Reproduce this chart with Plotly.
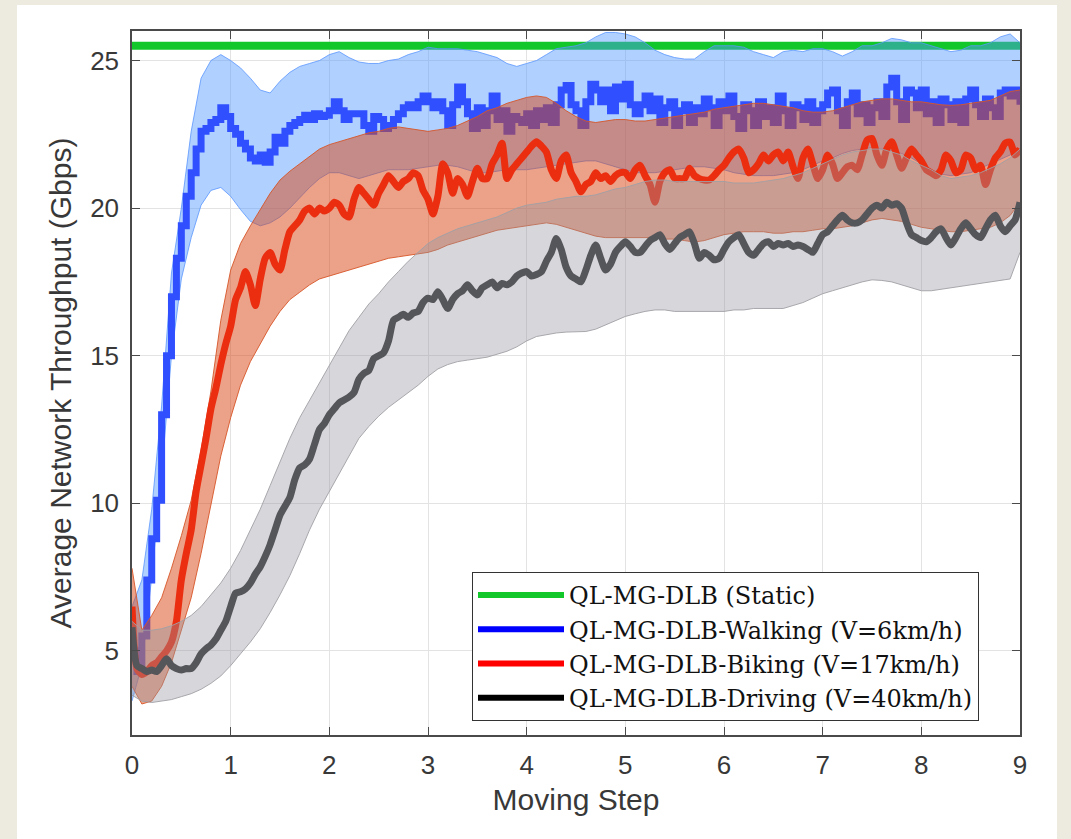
import numpy as np
import plotly.graph_objects as go

# ---------------- data ----------------
x_mean = np.round(np.arange(0, 9.0001, 0.05), 2)
x_band = np.round(np.arange(0, 9.0001, 0.1), 1)

static_value = 25.5

walk_mean = [5.0, 4.3, 5.5, 7.4, 8.8, 10.1, 13.0, 15.0, 17.0, 18.3,
             19.4, 20.4, 21.2, 22.0, 22.6, 22.7, 22.9, 23.0, 23.4, 23.1,
             22.7, 22.5, 22.2, 22.0, 21.7, 21.6, 21.8, 21.55, 21.9, 22.4,
             22.2, 22.6, 22.8, 22.9, 23.0, 23.15, 23.0, 23.2, 23.1, 23.15,
             23.3, 23.6, 23.3, 23.0, 23.2, 23.2, 23.2, 22.8, 22.6, 23.1,
             23.0, 22.7, 22.8, 23.0, 23.2, 23.4, 23.5, 23.4, 23.6, 23.8,
             23.6, 23.4, 23.6, 23.3, 22.8, 23.5, 24.1, 23.6, 23.2, 22.7,
             23.4, 22.8, 23.3, 23.8, 23.0, 23.3, 22.6, 23.1, 23.0, 22.9,
             23.2, 22.8, 23.3, 23.0, 23.4, 22.9, 23.5, 24.0, 24.15, 23.5,
             23.3, 22.8, 23.6, 24.2, 24.0, 23.6, 24.0, 23.3, 24.1, 23.7,
             24.2, 23.5, 23.2, 23.5, 23.8, 23.3, 23.7, 22.9, 23.4, 23.6,
             22.8, 23.3, 23.5, 22.9, 23.4, 23.2, 23.7, 23.4, 22.8, 23.6,
             23.3, 23.8, 23.1, 22.7, 23.5, 23.3, 22.8, 23.6, 23.1, 23.4,
             22.9, 23.8, 23.3, 22.8, 23.5, 23.4, 23.0, 23.6, 22.9, 23.3,
             23.5, 23.9, 24.0, 23.3, 22.8, 23.6, 23.9, 23.2, 23.5, 22.9,
             23.4, 23.6, 23.1, 24.1, 24.4, 23.6, 23.0, 24.0, 23.9, 23.4,
             24.0, 23.2, 23.6, 22.9, 23.7, 23.5, 23.0, 23.6, 22.9, 23.7,
             24.0, 23.5, 23.1, 23.7, 23.4, 23.1, 23.9, 24.0, 23.8, 24.0,
             23.5]

bike_mean = [6.5, 4.4, 4.2, 4.3, 4.5, 4.6, 4.8, 5.0, 5.3, 6.0,
             7.4, 8.3, 9.1, 10.4, 11.3, 12.2, 13.2, 13.9, 14.7, 15.4,
             16.0, 16.9, 17.3, 17.85, 17.4, 16.7, 17.6, 18.3, 18.5, 18.1,
             17.9, 18.6, 19.2, 19.4, 19.6, 19.9, 20.0, 19.8, 20.0, 19.9,
             20.0, 20.2, 20.1, 19.8, 19.7, 20.3, 20.7, 20.5, 20.3, 20.1,
             20.5, 20.8, 21.1, 20.9, 20.7, 20.9, 21.0, 21.2, 21.1, 20.6,
             20.3, 19.8, 20.4, 21.5, 21.2, 20.5, 21.0, 20.8, 20.4, 20.9,
             21.35, 21.0, 21.0, 21.5, 21.8, 22.2, 21.0, 21.3, 21.5, 21.7,
             21.9, 22.1, 22.25, 22.1, 21.9, 21.3, 21.0, 21.6, 21.8, 21.2,
             20.9, 20.55, 20.8, 20.9, 21.2, 21.0, 21.1, 20.9, 21.1, 21.2,
             21.2, 21.0, 21.3, 21.45, 21.1, 20.8, 20.2, 20.9, 21.2, 21.3,
             21.0, 21.0, 21.0, 21.35, 21.1, 21.0, 20.95, 20.95, 21.1, 21.3,
             21.45, 21.7, 21.9, 22.0, 21.7, 21.2, 21.3, 21.5, 21.8, 21.6,
             21.8, 21.9, 21.6, 21.9, 21.4, 21.0, 21.7, 22.0, 21.5, 21.0,
             21.3, 21.8, 21.5, 21.0, 21.2, 21.4, 21.45, 21.3, 21.8, 22.3,
             22.36, 21.8, 21.45, 22.0, 22.25, 21.8, 21.35, 21.7, 22.0, 21.8,
             21.6, 21.3, 21.2, 21.1, 21.3, 21.8, 21.6, 21.2, 21.3, 21.8,
             21.7, 21.3, 21.45, 20.8, 21.3, 21.7, 21.9, 22.2, 22.24, 21.8,
             22.0]

drive_mean = [5.8, 4.5, 4.4, 4.3, 4.35, 4.3, 4.5, 4.73, 4.5, 4.4,
              4.35, 4.4, 4.4, 4.6, 4.9, 5.07, 5.2, 5.4, 5.7, 6.0,
              6.5, 6.96, 7.0, 7.1, 7.3, 7.6, 7.85, 8.2, 8.6, 9.1,
              9.6, 9.9, 10.2, 10.8, 11.2, 11.3, 11.5, 12.0, 12.5, 12.7,
              13.0, 13.2, 13.4, 13.5, 13.6, 13.75, 14.2, 14.4, 14.5, 14.9,
              15.0, 15.1, 15.5, 16.2, 16.3, 16.4, 16.3, 16.45, 16.5, 16.8,
              16.95, 16.9, 17.17, 16.9, 16.6, 16.9, 17.1, 17.2, 17.4, 17.2,
              17.06, 17.3, 17.4, 17.5, 17.3, 17.45, 17.4, 17.5, 17.7, 17.8,
              17.85, 17.7, 17.75, 17.85, 18.2, 18.5, 18.97, 18.6, 18.0, 17.7,
              17.6, 17.5, 17.9, 18.4, 18.75, 18.3, 17.9, 18.1, 18.5, 18.7,
              18.86, 18.7, 18.5, 18.5, 18.7, 18.9, 19.0, 19.1, 18.8, 18.6,
              18.8, 19.0, 19.1, 19.2, 18.8, 18.3, 18.5, 18.4, 18.25, 18.3,
              18.6, 18.86, 19.0, 19.1, 18.8, 18.5, 18.4, 18.6, 18.8, 18.86,
              18.7, 18.8, 18.75, 18.8, 18.7, 18.75, 18.7, 18.6, 18.5, 18.8,
              19.1, 19.2, 19.4, 19.6, 19.76, 19.6, 19.5, 19.5, 19.6, 19.8,
              20.0, 20.1, 20.0, 20.2, 20.1, 20.15, 20.0, 19.5, 19.1, 19.0,
              18.9, 18.86, 19.0, 19.2, 19.3, 19.0, 18.75, 19.0, 19.3, 19.5,
              19.3, 19.1, 19.0, 19.3, 19.6, 19.76, 19.4, 19.2, 19.4, 19.6,
              20.2]

walk_upper = [6.5, 7.4, 9.8, 13.3, 17.8, 20.0, 22.6, 24.4, 25.0, 25.2,
              25.0, 24.75, 24.4, 24.0, 23.9, 24.3, 24.6, 24.8, 24.9, 25.0,
              25.2, 25.3, 25.1, 24.95, 24.9, 24.9, 25.0, 25.05, 25.2, 25.3,
              25.45, 25.4, 25.4, 25.4, 25.35, 25.3, 25.2, 25.1, 24.9, 24.8,
              24.9, 25.0, 25.2, 25.4, 25.45, 25.5, 25.6, 25.8, 25.95, 25.95,
              25.9, 25.8, 25.6, 25.35, 25.2, 25.1, 25.05, 25.05, 25.3, 25.5,
              25.5, 25.5, 25.45, 25.3, 25.2, 25.1, 25.3, 25.35, 25.3, 25.4,
              25.4, 25.3, 25.15, 25.3, 25.5, 25.5, 25.6, 25.75, 25.7, 25.6,
              25.6, 25.5, 25.4, 25.3, 25.35, 25.5, 25.5, 25.6, 25.8, 25.9,
              25.6]

walk_lower = [3.3, 4.5, 7.5, 11.0, 15.0, 17.6, 19.0, 20.1, 20.6, 20.7,
              20.4, 19.95, 19.55, 19.4, 19.5, 19.7, 20.0, 20.35, 20.7, 21.0,
              21.2, 21.2, 21.1, 21.0, 21.1, 21.2, 21.3, 21.3, 21.3, 21.35,
              21.4, 21.45, 21.45, 21.4, 21.3, 21.2, 21.2, 21.25, 21.3, 21.3,
              21.3, 21.35, 21.4, 21.45, 21.5, 21.55, 21.6, 21.6, 21.5, 21.4,
              21.3, 21.2, 21.2, 21.2, 21.25, 21.3, 21.35, 21.4, 21.4, 21.35,
              21.3, 21.2, 21.15, 21.1, 21.1, 21.1, 21.15, 21.2, 21.3, 21.45,
              21.6, 21.7, 21.85, 21.95, 22.0, 22.05, 22.0, 21.95, 21.85, 21.7,
              21.5, 21.3, 21.15, 21.1, 21.15, 21.2, 21.35, 21.5, 21.65, 21.8,
              22.0]

bike_upper = [7.8, 5.7, 6.2, 6.8, 7.8, 8.9, 10.1, 11.8, 13.8, 16.2,
              17.9, 18.8, 19.4, 19.95, 20.5, 20.95, 21.25, 21.5, 21.75, 22.0,
              22.15, 22.25, 22.35, 22.45, 22.55, 22.6, 22.7, 22.75, 22.7, 22.65,
              22.6, 22.65, 22.7, 22.8, 22.95, 23.1, 23.3, 23.4, 23.55, 23.65,
              23.75, 23.8, 23.75, 23.55, 23.3, 23.1, 22.95, 22.9, 22.95, 23.0,
              23.0, 22.95, 22.95, 23.0, 23.05, 23.1, 23.15, 23.2, 23.25, 23.35,
              23.4, 23.45, 23.5, 23.55, 23.55, 23.5, 23.45, 23.4, 23.3, 23.25,
              23.25, 23.3, 23.4, 23.5, 23.6, 23.65, 23.7, 23.7, 23.65, 23.6,
              23.6, 23.55, 23.5, 23.48, 23.5, 23.55, 23.6, 23.65, 23.8, 23.95,
              24.0]

bike_lower = [3.8, 3.2, 3.3, 3.8, 4.6, 5.7, 6.8, 8.3, 10.0, 11.6,
              12.9, 14.0, 14.8, 15.4, 16.0, 16.5, 16.9, 17.15, 17.4, 17.6,
              17.7, 17.8, 17.9, 18.0, 18.1, 18.2, 18.3, 18.35, 18.4, 18.45,
              18.5, 18.6, 18.75, 18.85, 18.95, 19.05, 19.15, 19.25, 19.3, 19.35,
              19.4, 19.45, 19.5, 19.45, 19.35, 19.25, 19.15, 19.05, 19.0, 19.0,
              19.0, 19.0, 19.0, 19.0, 18.95, 18.95, 18.9, 18.85, 18.9, 19.0,
              19.1, 19.15, 19.2, 19.2, 19.2, 19.15, 19.15, 19.2, 19.2, 19.25,
              19.3, 19.3, 19.35, 19.4, 19.5, 19.6, 19.65, 19.6, 19.55, 19.45,
              19.35, 19.3, 19.25, 19.2, 19.2, 19.25, 19.3, 19.35, 19.5, 19.75,
              20.2]

drive_upper = [6.0, 5.7, 5.7, 5.75, 5.85, 6.0, 6.2, 6.5, 6.9, 7.3,
               7.8, 8.4, 9.1, 9.8, 10.6, 11.4, 12.2, 12.9, 13.5, 14.1,
               14.7, 15.3, 15.85, 16.3, 16.75, 17.1, 17.5, 17.85, 18.2, 18.5,
               18.8, 19.0, 19.15, 19.3, 19.4, 19.5, 19.6, 19.7, 19.85, 20.0,
               20.1, 20.15, 20.2, 20.3, 20.35, 20.4, 20.4, 20.45, 20.55, 20.65,
               20.7, 20.8, 20.9, 20.95, 20.95, 20.9, 20.9, 20.9, 20.9, 20.9,
               20.9, 20.85, 20.85, 20.85, 20.9, 20.95, 21.0, 21.1, 21.2, 21.35,
               21.5, 21.65, 21.8, 21.9, 21.95, 22.0, 22.0, 21.9, 21.8, 21.6,
               21.45, 21.3, 21.1, 21.0, 21.05, 21.1, 21.2, 21.35, 21.5, 21.7,
               22.0]

drive_lower = [3.5, 3.3, 3.25, 3.3, 3.35, 3.45, 3.55, 3.7, 3.9, 4.15,
               4.5, 4.9, 5.3, 5.75, 6.3, 6.9, 7.55, 8.3, 9.1, 9.8,
               10.4, 11.0, 11.65, 12.2, 12.6, 12.95, 13.25, 13.5, 13.75, 14.0,
               14.3, 14.55, 14.7, 14.8, 14.85, 14.9, 14.95, 15.05, 15.15, 15.3,
               15.5, 15.65, 15.72, 15.77, 15.8, 15.8, 15.82, 15.9, 16.05, 16.2,
               16.33, 16.42, 16.5, 16.55, 16.55, 16.5, 16.5, 16.5, 16.5, 16.5,
               16.5, 16.55, 16.55, 16.6, 16.6, 16.6, 16.6, 16.7, 16.8, 16.95,
               17.1, 17.2, 17.3, 17.4, 17.5, 17.57, 17.55, 17.5, 17.4, 17.3,
               17.2, 17.2, 17.25, 17.3, 17.35, 17.4, 17.45, 17.5, 17.55, 17.6,
               18.5]

legend_names = ["QL-MG-DLB (Static)",
                "QL-MG-DLB-Walking (V=6km/h)",
                "QL-MG-DLB-Biking (V=17km/h)",
                "QL-MG-DLB-Driving (V=40km/h)"]

x_ticks = [0, 1, 2, 3, 4, 5, 6, 7, 8, 9]
y_ticks = [5, 10, 15, 20, 25]

# ---------------- figure ----------------
fig = go.Figure()

# static line (bottom layer)
fig.add_trace(go.Scatter(x=[x_band[0], x_band[-1]], y=[static_value, static_value],
                         mode="lines", line=dict(color="#12C72A", width=8),
                         showlegend=False, hoverinfo="skip"))


def add_band(lower, upper, fill, edge):
    fig.add_trace(go.Scatter(x=x_band, y=lower, mode="lines",
                             line=dict(color=edge, width=1),
                             showlegend=False, hoverinfo="skip"))
    fig.add_trace(go.Scatter(x=x_band, y=upper, mode="lines",
                             line=dict(color=edge, width=1),
                             fill="tonexty", fillcolor=fill,
                             showlegend=False, hoverinfo="skip"))


# walking
add_band(walk_lower, walk_upper, "rgba(80,150,255,0.45)", "rgba(90,150,255,0.8)")
fig.add_trace(go.Scatter(x=x_mean, y=walk_mean, mode="lines",
                         line=dict(color="#3050FF", width=7, shape="hv"),
                         showlegend=False))
# biking
add_band(bike_lower, bike_upper, "rgba(215,70,20,0.5)", "rgba(215,85,40,0.9)")
fig.add_trace(go.Scatter(x=x_mean, y=bike_mean, mode="lines",
                         line=dict(color="#EB2D10", width=7, shape="spline", smoothing=0.6),
                         showlegend=False))
# driving
add_band(drive_lower, drive_upper, "rgba(150,150,160,0.38)", "rgba(160,160,165,0.9)")
fig.add_trace(go.Scatter(x=x_mean, y=drive_mean, mode="lines",
                         line=dict(color="#55565A", width=7, shape="spline", smoothing=0.6),
                         showlegend=False))

# legend entries
legend_colors = ["#12C72A", "#0000FF", "#FF0000", "#000000"]
for name, col in zip(legend_names, legend_colors):
    fig.add_trace(go.Scatter(x=[None], y=[None], mode="lines", name=name,
                             line=dict(color=col, width=6)))

W, H = 1071, 839
L, R, T, B = 132, 1020, 31, 735
pw, ph = R - L, B - T


def px2paper_x(px):
    return (px - L) / pw


def px2paper_y(py):
    return (B - py) / ph


fig.add_shape(type="rect", xref="paper", yref="paper",
              x0=px2paper_x(17), x1=px2paper_x(1057),
              y0=px2paper_y(845), y1=px2paper_y(5),
              fillcolor="white", line=dict(width=0), layer="below")

axis_common = dict(showline=True, linecolor="#4a4a4a", linewidth=1.5, mirror="ticks",
                   ticks="inside", ticklen=8, tickcolor="#4a4a4a", tickwidth=1.2,
                   showgrid=True, gridcolor="#e3e3e3", gridwidth=1, zeroline=False,
                   tickfont=dict(family="Liberation Sans, Arial", size=26, color="#383838"))

title_font = dict(family="Liberation Sans, Arial", size=30, color="#383838")

fig.update_layout(
    width=W, height=H,
    margin=dict(l=L, r=W - R, t=T, b=H - B),
    paper_bgcolor="#EDEAE0",
    plot_bgcolor="white",
    xaxis=dict(range=[0, 9], tickvals=x_ticks, ticklabelstandoff=6,
               title=dict(text="Moving Step", standoff=10, font=title_font),
               **axis_common),
    yaxis=dict(range=[2.15, 26.0], tickvals=y_ticks, ticklabelstandoff=6,
               title=dict(text="Average Network Throughput (Gbps)", standoff=10, font=title_font),
               **axis_common),
    legend=dict(x=px2paper_x(472), y=px2paper_y(572), xanchor="left", yanchor="top",
                bgcolor="white", bordercolor="#333333", borderwidth=1,
                font=dict(family="DejaVu Serif, Liberation Serif, serif", size=24, color="#111111"),
                itemwidth=86, traceorder="normal"),
    showlegend=True,
)

fig.write_html("out.html",
               config={"displayModeBar": False},
               post_script="document.body.style.margin='0px';"
                           "document.body.style.background='#EDEAE0';")
